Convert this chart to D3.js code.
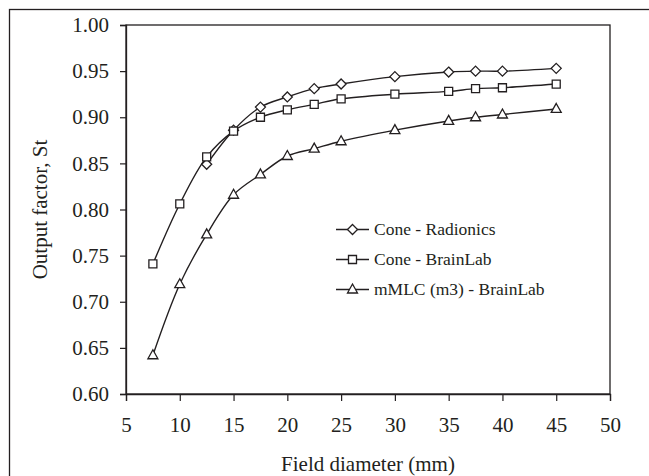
<!DOCTYPE html>
<html>
<head>
<meta charset="utf-8">
<script src="https://cdn.jsdelivr.net/npm/d3@7/dist/d3.min.js"></script>
<style>
  html, body { margin: 0; padding: 0; background: #fff; }
  svg { display: block; }
  text { font-family: "Liberation Serif", "Times New Roman", serif; fill: #231f20; }
</style>
</head>
<body>
<svg id="chart" width="649" height="476"></svg>
<script>
// ---- Data ----
const xRadionics = [12.5, 15, 17.5, 20, 22.5, 25, 30, 35, 37.5, 40, 45];
const coneRadionics = [0.849, 0.886, 0.911, 0.922, 0.931, 0.936, 0.944, 0.949, 0.950, 0.950, 0.953];

const xBrainLab = [7.5, 10, 12.5, 15, 17.5, 20, 22.5, 25, 30, 35, 37.5, 40, 45];
const coneBrainLab = [0.741, 0.806, 0.857, 0.885, 0.900, 0.908, 0.914, 0.920, 0.925, 0.928, 0.931, 0.932, 0.936];

const xMLC = [7.5, 10, 12.5, 15, 17.5, 20, 22.5, 25, 30, 35, 37.5, 40, 45];
const mMLC = [0.642, 0.719, 0.773, 0.816, 0.838, 0.858, 0.866, 0.874, 0.886, 0.896, 0.900, 0.903, 0.909];

const seriesNames = ["Cone - Radionics", "Cone - BrainLab", "mMLC (m3) - BrainLab"];
const xTicks = [5, 10, 15, 20, 25, 30, 35, 40, 45, 50];
const yTicks = [0.60, 0.65, 0.70, 0.75, 0.80, 0.85, 0.90, 0.95, 1.00];
const xTitle = "Field diameter (mm)";
const yTitle = "Output factor, St";

// ---- Layout ----
const ink = "#231f20";
const svg = d3.select("#chart");
const plot = { left: 126, right: 610, top: 25, bottom: 394 };

const x = d3.scaleLinear().domain([5, 50]).range([plot.left, plot.right]);
const y = d3.scaleLinear().domain([0.60, 1.00]).range([plot.bottom, plot.top]);

// outer frame
svg.append("rect")
  .attr("x", 9.5).attr("y", 9.5)
  .attr("width", 660).attr("height", 500)
  .attr("fill", "none").attr("stroke", ink).attr("stroke-width", 1.3);

// plot frame
svg.append("rect")
  .attr("x", plot.left).attr("y", plot.top)
  .attr("width", plot.right - plot.left).attr("height", plot.bottom - plot.top)
  .attr("fill", "none").attr("stroke", ink).attr("stroke-width", 1.3);

// axes
const xAxis = svg.append("g")
  .attr("transform", `translate(0,${plot.bottom})`)
  .call(d3.axisBottom(x).tickValues(xTicks).tickFormat(d3.format("d")).tickSizeOuter(0).tickSize(7).tickPadding(16));
const yAxis = svg.append("g")
  .attr("transform", `translate(${plot.left},0)`)
  .call(d3.axisLeft(y).tickValues(yTicks).tickFormat(d3.format(".2f")).tickSizeOuter(0).tickSize(6).tickPadding(11));

[xAxis, yAxis].forEach(g => {
  g.select(".domain").attr("stroke", ink).attr("stroke-width", 1.3);
  g.selectAll(".tick line").attr("stroke", ink).attr("stroke-width", 1.2);
  g.selectAll(".tick text")
    .style("font-family", '"Liberation Serif", "Times New Roman", serif')
    .style("font-size", "21px").attr("fill", ink);
});

// titles
svg.append("text")
  .attr("x", (plot.left + plot.right) / 2).attr("y", 471)
  .attr("text-anchor", "middle").style("font-size", "21px")
  .text(xTitle);
svg.append("text")
  .attr("transform", `translate(47,${(plot.top + plot.bottom) / 2}) rotate(-90)`)
  .attr("text-anchor", "middle").style("font-size", "21px")
  .text(yTitle);

// series
const series = [
  { name: seriesNames[0], xs: xRadionics, ys: coneRadionics, marker: "diamond" },
  { name: seriesNames[1], xs: xBrainLab, ys: coneBrainLab, marker: "square" },
  { name: seriesNames[2], xs: xMLC, ys: mMLC, marker: "triangle" }
];

const line = d3.line().curve(d3.curveCatmullRom.alpha(0.5));

function drawMarker(g, type, cx, cy) {
  let path;
  if (type === "diamond") {
    path = `M${cx},${cy - 5}L${cx + 5},${cy}L${cx},${cy + 5}L${cx - 5},${cy}Z`;
  } else if (type === "square") {
    path = `M${cx - 4},${cy - 4}h8v8h-8Z`;
  } else {
    path = `M${cx},${cy - 5.5}L${cx + 5},${cy + 3.5}L${cx - 5},${cy + 3.5}Z`;
  }
  g.append("path").attr("d", path)
    .attr("fill", "#fff").attr("stroke", ink).attr("stroke-width", 1.3);
}

series.forEach(s => {
  const pts = s.xs.map((xv, i) => [x(xv), y(s.ys[i])]);
  svg.append("path").attr("d", line(pts))
    .attr("fill", "none").attr("stroke", ink).attr("stroke-width", 1.4);
  const g = svg.append("g");
  pts.forEach(p => drawMarker(g, s.marker, p[0], p[1]));
});

// legend
const legend = svg.append("g");
series.forEach((s, i) => {
  const ly = 229.5 + i * 30;
  legend.append("line")
    .attr("x1", 336).attr("x2", 369).attr("y1", ly).attr("y2", ly)
    .attr("stroke", ink).attr("stroke-width", 1.4);
  drawMarker(legend, s.marker, 352.5, ly);
  legend.append("text")
    .attr("x", 374).attr("y", ly + 5.5)
    .style("font-size", "17.5px")
    .text(s.name);
});
</script>
</body>
</html>
